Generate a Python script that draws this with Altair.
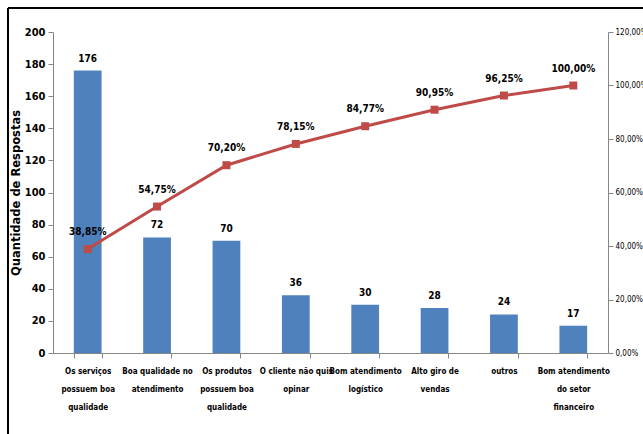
import altair as alt
import pandas as pd

categories = [
    "Os serviços|possuem boa|qualidade",
    "Boa qualidade no|atendimento",
    "Os produtos|possuem boa|qualidade",
    "O cliente não quis|opinar",
    "Bom atendimento|logístico",
    "Alto giro de|vendas",
    "outros",
    "Bom atendimento|do setor|financeiro",
]
counts = [176, 72, 70, 36, 30, 28, 24, 17]
cum_pct = [38.85, 54.75, 70.20, 78.15, 84.77, 90.95, 96.25, 100.00]
left_ticks = list(range(0, 201, 20))
right_ticks = list(range(0, 121, 20))

df = pd.DataFrame({
    "cat": categories,
    "count": counts,
    "pct": cum_pct,
    "pct_label": [f"{v:.2f}%".replace(".", ",") for v in cum_pct],
})

W, H = 555, 321
NARROW = "DejaVu Sans Condensed, Liberation Sans Narrow, Arial Narrow, sans-serif"
BLUE = "#4F81BD"
RED = "#BE4B48"

x = alt.X("cat:N", sort=categories, title=None,
          scale=alt.Scale(paddingInner=0.6, paddingOuter=0.3),
          axis=alt.Axis(labelAngle=0, labelExpr="split(datum.label, '|')",
                        labelFont=NARROW, labelFontWeight="bold", labelFontSize=8,
                        labelColor="#000000", labelLineHeight=18, labelBaseline="top",
                        labelPadding=9, tickBand="extent", tickSize=5,
                        labelOverlap=False, labelBound=False,
                        domainColor="#868686", tickColor="#868686", labelLimit=200))

left_axis = alt.Axis(values=left_ticks, grid=False, tickSize=5, labelOverlap=False,
                     domainColor="#868686", tickColor="#868686",
                     labelFont=NARROW, labelFontWeight="bold", labelFontSize=11,
                     labelColor="#000000", labelPadding=3,
                     titleFont="DejaVu Sans", titleFontWeight="bold", titleFontSize=11.5,
                     titleColor="#000000", titleX=-37, titleY=H / 2,
                     titleAngle=-90, titleAlign="center", titleBaseline="middle")
left_scale = alt.Scale(domain=[0, 200], nice=False)

bars = alt.Chart(df).mark_bar(color=BLUE).encode(
    x=x, y=alt.Y("count:Q", title="Quantidade de Respostas", scale=left_scale, axis=left_axis))
bar_text = alt.Chart(df).mark_text(font=NARROW, fontWeight="bold", fontSize=10,
                                   baseline="bottom", dy=-7, color="#000000").encode(
    x=alt.X("cat:N", sort=categories),
    y=alt.Y("count:Q", title="Quantidade de Respostas", scale=left_scale, axis=left_axis),
    text="count:Q")

right_axis = alt.Axis(orient="right", values=right_ticks, grid=False, tickSize=5,
                      labelOverlap=False,
                      domainColor="#868686", tickColor="#868686",
                      labelFont=NARROW, labelFontSize=8, labelColor="#000000",
                      labelPadding=2,
                      labelExpr="replace(format(datum.value/100, '.2%'), '.', ',')")
right_scale = alt.Scale(domain=[0, 120], nice=False)

line = alt.Chart(df).mark_line(color=RED, strokeWidth=3,
                               point=alt.OverlayMarkDef(shape="square", size=64, color=RED,
                                                        filled=True, opacity=1)).encode(
    x=alt.X("cat:N", sort=categories),
    y=alt.Y("pct:Q", title=None, scale=right_scale, axis=right_axis))
line_text = alt.Chart(df).mark_text(font=NARROW, fontWeight="bold", fontSize=10,
                                    dy=-17, color="#000000").encode(
    x=alt.X("cat:N", sort=categories),
    y=alt.Y("pct:Q", title=None, scale=right_scale, axis=right_axis),
    text="pct_label:N")

left_layer = alt.layer(bars, bar_text)
right_layer = alt.layer(line, line_text)

frame_top = alt.Chart(df).mark_rule(color="#000000", strokeWidth=2).encode(
    x=alt.value(-45), x2=alt.value(W + 40), y=alt.value(-24))
frame_left = alt.Chart(df).mark_rule(color="#000000", strokeWidth=2).encode(
    x=alt.value(-45), y=alt.value(-24), y2=alt.value(H + 90))

chart = alt.layer(left_layer, right_layer, frame_top, frame_left).resolve_scale(
    y="independent").properties(
    width=W, height=H,
    autosize=alt.AutoSizeParams(type="none"),
    padding={"left": 53, "top": 32, "right": 35, "bottom": 81},
    background="#ffffff",
).configure_view(stroke=None)

chart.save("out.html", embed_options={"renderer": "svg", "actions": False})
